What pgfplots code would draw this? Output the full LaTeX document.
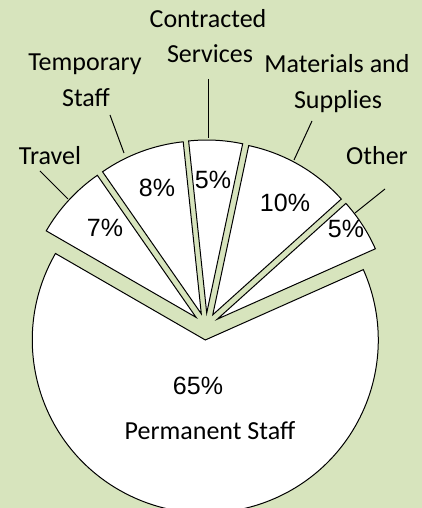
\documentclass[border=0pt]{standalone}
\usepackage{pgfplots}
\usepackage{pgfplotstable}
\pgfplotsset{compat=1.18}
\usepackage{fontspec}
\setmainfont{Carlito}
\newfontfamily\labfont{Carlito}
\newfontfamily\pctfont{Liberation Sans}
\definecolor{bg}{HTML}{D7E4BD}
\pgfplotstableread{
name pct
Other 5
Materials 10
Contracted 5
Temporary 8
Travel 7
Permanent 65
}\piedata
\begin{document}
\begin{tikzpicture}
\fill[bg] (0,0) rectangle (422pt,508pt);
% precompute slice angles from the data
\xdef\cum{24}
\foreach \i in {0,...,5}{
  \pgfplotstablegetelem{\i}{pct}\of\piedata
  \pgfmathsetmacro\a{\cum}
  \pgfmathsetmacro\b{\cum+3.6*\pgfplotsretval}
  \pgfmathsetmacro\m{(\a+\b)/2}
  \pgfmathsetmacro\px{206+13.5*cos(\m)}
  \pgfmathsetmacro\py{181.5+13.5*sin(\m)}
  \expandafter\xdef\csname sa\i\endcsname{\a}
  \expandafter\xdef\csname ea\i\endcsname{\b}
  \expandafter\xdef\csname px\i\endcsname{\px}
  \expandafter\xdef\csname py\i\endcsname{\py}
  \xdef\cum{\b}
}
\begin{axis}[x=1pt,y=1pt,xmin=0,xmax=422,ymin=0,ymax=508,hide axis,
  at={(0,0)},anchor=south west]
\pgfplotsinvokeforeach{0,...,5}{
  \filldraw[fill=white,draw=black,line width=1pt,line join=miter]
    (axis cs:\csname px#1\endcsname,\csname py#1\endcsname)
    -- ++(\csname sa#1\endcsname:173pt)
    arc[start angle=\csname sa#1\endcsname,end angle=\csname ea#1\endcsname,radius=173pt]
    -- cycle;
}
% leader lines
\draw[line width=1pt] (axis cs:208,429) -- (axis cs:208,370);
\draw[line width=1pt] (axis cs:110,393) -- (axis cs:124,355);
\draw[line width=1pt] (axis cs:312,387) -- (axis cs:294,348);
\draw[line width=1pt] (axis cs:40,337) -- (axis cs:68,309);
\draw[line width=1pt] (axis cs:385,319) -- (axis cs:355,295);
% category labels
\begin{scope}[every node/.style={anchor=base,inner sep=0pt,font=\labfont\fontsize{26}{30}\selectfont}]
\node at (axis cs:208,480) {Contracted};
\node at (axis cs:210,445) {Services};
\node at (axis cs:85,437) {Temporary};
\node at (axis cs:86,401) {Staff};
\node at (axis cs:337,435) {Materials and};
\node at (axis cs:338,399) {Supplies};
\node at (axis cs:50,343) {Travel};
\node at (axis cs:377,343) {Other};
\node at (axis cs:210,68) {Permanent Staff};
\end{scope}
\begin{scope}[every node/.style={anchor=base,inner sep=0pt,font=\pctfont\fontsize{25}{29}\selectfont}]
\node at (axis cs:105,271) {7\%};
\node at (axis cs:157,311) {8\%};
\node at (axis cs:213,319) {5\%};
\node at (axis cs:285,296) {10\%};
\node at (axis cs:346,270) {5\%};
\node at (axis cs:198,113) {65\%};
\end{scope}
\end{axis}
\pgfresetboundingbox
\useasboundingbox (0,0) rectangle (422pt,508pt);
\end{tikzpicture}
\end{document}
